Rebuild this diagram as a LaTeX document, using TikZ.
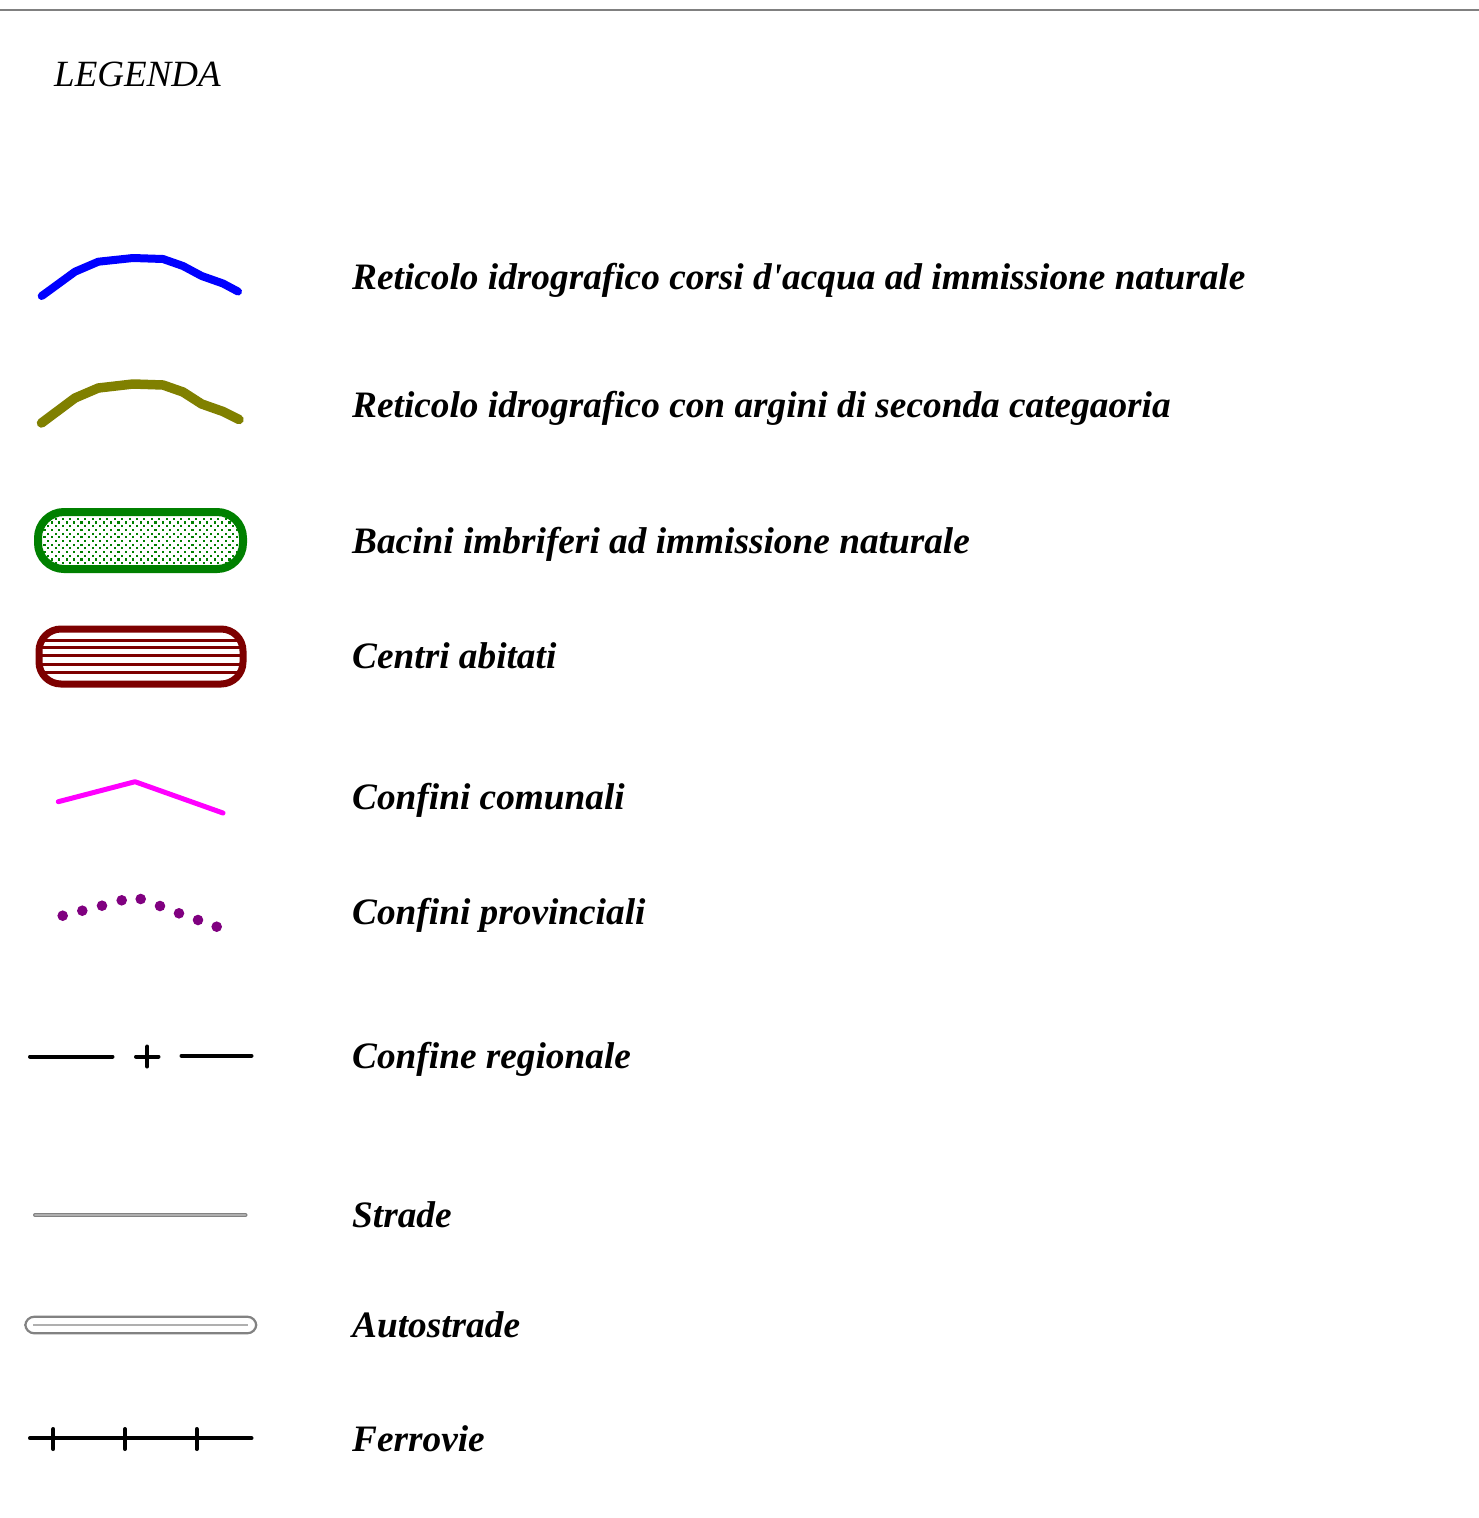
\documentclass[tikz,border=0pt]{standalone}
\usepackage{fontspec}
\setmainfont{Liberation Serif}
\definecolor{riverblue}{RGB}{0,0,255}
\definecolor{riverolive}{RGB}{128,128,0}
\definecolor{basingreen}{RGB}{0,128,0}
\definecolor{townred}{RGB}{125,0,0}
\definecolor{commag}{RGB}{255,0,255}
\definecolor{provpurple}{RGB}{128,0,128}
\definecolor{roadgray}{RGB}{130,130,130}
\definecolor{roadlight}{RGB}{175,175,175}
\tikzset{
  lbl/.style={anchor=base west, inner sep=0pt, font=\fontsize{37.3}{40}\selectfont\bfseries\itshape},
  ttl/.style={anchor=base west, inner sep=0pt, font=\fontsize{37}{40}\selectfont\itshape},
  curve/.style={line cap=round, line join=round},
}
\begin{document}
\begin{tikzpicture}[x=1pt,y=-1pt]
\useasboundingbox (0,0) rectangle (1479,1518);
\fill[white] (0,0) rectangle (1479,1518);
% top rule
\draw[line width=2pt, gray] (0,10) -- (1479,10);
\node[ttl] (title) at (54,86) {LEGENDA};

% 1 blue river
\draw[curve, riverblue, line width=8pt] (41.7,296) -- (75,271.7) -- (98.3,261.7) -- (133,258) -- (163,259) -- (183,266) -- (201.7,276) -- (223,283.5) -- (238,291.5);
\node[lbl] (l1) at (352,289) {Reticolo idrografico corsi d\textquotesingle acqua ad immissione naturale};

% 2 olive river
\draw[curve, riverolive, line width=9.5pt] (41.5,423) -- (75,398) -- (98.3,388) -- (133,384) -- (163,385) -- (183,392) -- (201.7,404) -- (223,411.5) -- (239,419.5);
\node[lbl] (l2) at (352,417) {Reticolo idrografico con argini di seconda categaoria};

% 3 basins
\begin{scope}
\clip[rounded corners=26pt] (38,512) rectangle (243,569);
\foreach \r in {0,...,15} {
  \pgfmathsetmacro{\yy}{514+3.7*\r}
  \pgfmathsetmacro{\xo}{mod(\r,2)*3.7}
  \foreach \c in {0,...,28} {
    \fill[basingreen] ({36+\xo+7.4*\c},\yy) rectangle ++(2.1,2.1);
  }
}
\end{scope}
\draw[basingreen, line width=8pt, rounded corners=26pt] (38,512) rectangle (243,569);
\node[lbl] (l3) at (352,553) {Bacini imbriferi ad immissione naturale};

% 4 towns
\begin{scope}
\clip[rounded corners=22pt] (39,629) rectangle (243,684);
\foreach \yy in {640,647.8,655.8,664,672.2} \draw[townred, line width=3pt] (30,\yy) -- (250,\yy);
\end{scope}
\draw[townred, line width=7pt, rounded corners=22pt] (39,629) rectangle (243,684);
\node[lbl] (l4) at (352,668) {Centri abitati};

% 5 municipal border
\draw[curve, commag, line width=5pt] (58.3,801.7) -- (135,781.7) -- (223,813);
\node[lbl] (l5) at (352,809) {Confini comunali};

% 6 provincial border
\foreach \px/\py in {62.7/915.7, 82.3/910.7, 102/905.7, 121.7/900.3, 140.7/899, 160/906, 179/913.3, 198/920, 216.7/926.7}
  \fill[provpurple] (\px,\py) circle (5.3pt);
\node[lbl] (l6) at (352,924) {Confini provinciali};

% 7 regional border
\draw[line cap=round, line width=4pt] (30,1056.5) -- (112.5,1056.5);
\draw[line cap=round, line width=4pt] (136,1056.5) -- (158.5,1056.5);
\draw[line cap=round, line width=4pt] (147.3,1046.5) -- (147.3,1066.5);
\draw[line cap=round, line width=4pt] (181.5,1055.7) -- (251.5,1055.7);
\node[lbl] (l7) at (352,1068) {Confine regionale};

% 8 roads
\draw[line cap=round, roadgray, line width=4pt] (35,1215) -- (245.5,1215);
\draw[line cap=round, roadlight, line width=1.5pt] (35,1215) -- (245.5,1215);
\node[lbl] (l8) at (352,1227) {Strade};

% 9 highways
\draw[roadgray, line width=2.2pt, rounded corners=9pt] (25.3,1316.7) rectangle (256.3,1333.3);
\draw[roadlight, line width=1.6pt] (33.3,1325) -- (247.7,1325);
\node[lbl] (l9) at (352,1337) {Autostrade};

% 10 railways
\draw[line cap=round, line width=4pt] (30,1438.3) -- (251.5,1438.3);
\foreach \tx in {53.3,125,196.7} \draw[line cap=round, line width=4pt] (\tx,1429) -- (\tx,1449);
\node[lbl] (l10) at (352,1451) {Ferrovie};
\end{tikzpicture}
\end{document}
